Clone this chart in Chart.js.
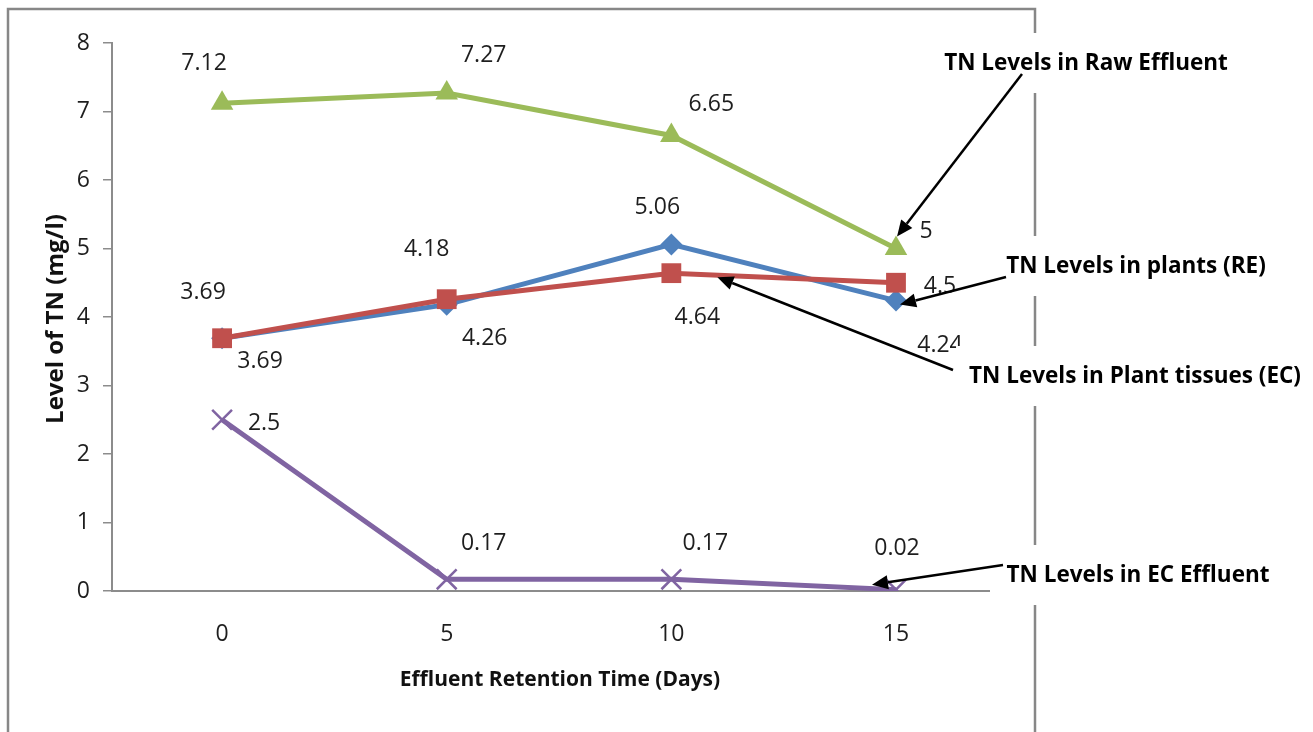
<!DOCTYPE html>
<html>
<head>
<meta charset="utf-8">
<script src="https://cdn.jsdelivr.net/npm/chart.js@4.4.1/dist/chart.umd.min.js"></script>
<style>
  html, body { margin: 0; padding: 0; background: #fff; }
  #wrap { width: 1313px; height: 732px; }
</style>
</head>
<body>
<div id="wrap"><canvas id="chartTN" width="1313" height="732"></canvas></div>
<script>
// datos
const days = [0, 5, 10, 15];
const rawEffluent = [7.12, 7.27, 6.65, 5];
const plantsRE = [3.69, 4.18, 5.06, 4.24];
const plantTissuesEC = [3.69, 4.26, 4.64, 4.5];
const ecEffluent = [2.5, 0.17, 0.17, 0.02];

const yTitle = 'Level of TN (mg/l)';
const xTitle = 'Effluent Retention Time (Days)';
const calloutTexts = [
  'TN Levels in Raw Effluent',
  'TN Levels in plants (RE)',
  'TN Levels in Plant tissues (EC)',
  'TN Levels in EC Effluent',
];

const FONT = "'Open Sans', 'DejaVu Sans', sans-serif";

function toPoints(values) {
  return values.map((v, i) => ({ x: days[i], y: v }));
}

// Dibuja marco, titulos, etiquetas de datos y flechas
const tnPlugin = {
  id: 'tnPlugin',
  beforeDraw(chart) {
    const ctx = chart.ctx;
    ctx.save();
    ctx.fillStyle = '#fff';
    ctx.fillRect(0, 0, chart.width, chart.height);
    ctx.strokeStyle = '#878787';
    ctx.lineWidth = 2.5;
    ctx.beginPath();
    ctx.moveTo(8, chart.height + 5);
    ctx.lineTo(8, 9);
    ctx.lineTo(1035, 9);
    ctx.lineTo(1035, chart.height + 5);
    ctx.stroke();
    ctx.restore();
  },
  afterDraw(chart) {
    const ctx = chart.ctx;
    ctx.save();

    // titulos de ejes
    ctx.fillStyle = '#111';
    ctx.font = 'bold 21px ' + FONT;
    ctx.textAlign = 'center';
    ctx.textBaseline = 'middle';
    ctx.fillText(xTitle, 560, 680);
    ctx.save();
    ctx.translate(56, 319);
    ctx.rotate(-Math.PI / 2);
    ctx.font = 'bold 24px ' + FONT;
    ctx.fillText(yTitle, 0, 0);
    ctx.restore();

    // etiquetas de datos
    ctx.font = '23px ' + FONT;
    ctx.fillStyle = '#1e1e1e';
    ctx.textAlign = 'center';
    ctx.textBaseline = 'alphabetic';
    chart.data.datasets.forEach((ds, di) => {
      const meta = chart.getDatasetMeta(di);
      meta.data.forEach((pt, i) => {
        const off = ds.labelOffsets[i];
        ctx.fillText(String(ds.data[i].y), pt.x + off[0], pt.y + off[1] + 8);
      });
    });

    // cajas de texto + flechas
    const callouts = chart.options.plugins.tnPlugin.callouts;
    ctx.font = 'bold 22.5px ' + FONT;
    callouts.forEach((c) => {
      const w = ctx.measureText(c.text).width;
      ctx.fillStyle = '#fff';
      ctx.fillRect(c.cx - w / 2 - 13, c.base - 37, w + 26, 60);
    });
    callouts.forEach((c) => {
      ctx.fillStyle = '#000';
      ctx.textAlign = 'center';
      ctx.fillText(c.text, c.cx, c.base);

      const pt = chart.getDatasetMeta(c.dataset).data[c.index];
      const tx = pt.x + c.tip[0];
      const ty = pt.y + c.tip[1];
      const ang = Math.atan2(ty - c.from[1], tx - c.from[0]);
      const headLen = 16;
      const headW = 7;
      const bx = tx - Math.cos(ang) * headLen;
      const by = ty - Math.sin(ang) * headLen;

      ctx.strokeStyle = '#000';
      ctx.lineWidth = 2.5;
      ctx.beginPath();
      ctx.moveTo(c.from[0], c.from[1]);
      ctx.lineTo(bx, by);
      ctx.stroke();

      ctx.beginPath();
      ctx.moveTo(tx, ty);
      ctx.lineTo(bx + Math.sin(ang) * headW, by - Math.cos(ang) * headW);
      ctx.lineTo(bx - Math.sin(ang) * headW, by + Math.cos(ang) * headW);
      ctx.closePath();
      ctx.fill();
    });

    ctx.restore();
  },
};

const ctx = document.getElementById('chartTN').getContext('2d');
new Chart(ctx, {
  type: 'line',
  data: {
    datasets: [
      {
        label: calloutTexts[2],
        data: toPoints(plantTissuesEC),
        borderColor: '#C0504D',
        backgroundColor: '#C0504D',
        borderWidth: 5,
        pointStyle: 'rect',
        pointRadius: 14,
        pointBorderWidth: 0,
        labelOffsets: [[38, 22], [38, 38], [26, 43], [44, 2]],
      },
      {
        label: calloutTexts[1],
        data: toPoints(plantsRE),
        borderColor: '#4F81BD',
        backgroundColor: '#4F81BD',
        borderWidth: 5,
        pointStyle: 'rectRot',
        pointRadius: 11,
        pointBorderWidth: 0,
        labelOffsets: [[-19, -47], [-20, -57], [-14, -38], [44, 43]],
      },
      {
        label: calloutTexts[0],
        data: toPoints(rawEffluent),
        borderColor: '#9BBB59',
        backgroundColor: '#9BBB59',
        borderWidth: 5,
        pointStyle: 'triangle',
        pointRadius: 13,
        pointBorderWidth: 0,
        labelOffsets: [[-18, -41], [37, -39], [40, -32], [30, -19]],
      },
      {
        label: calloutTexts[3],
        data: toPoints(ecEffluent),
        borderColor: '#8064A2',
        backgroundColor: '#8064A2',
        borderWidth: 5,
        pointStyle: 'crossRot',
        pointRadius: 14,
        pointBorderWidth: 2.5,
        labelOffsets: [[42, 2], [37, -37], [34, -37], [1, -43]],
      },
    ],
  },
  options: {
    responsive: false,
    animation: false,
    layout: { padding: { top: 43, right: 324, left: 0, bottom: 0 } },
    plugins: {
      legend: { display: false },
      tooltip: { enabled: false },
      tnPlugin: {
        callouts: [
          { text: calloutTexts[0], cx: 1086, base: 70, dataset: 2, index: 3, tip: [1, -12], from: [1022, 74] },
          { text: calloutTexts[1], cx: 1136, base: 273, dataset: 1, index: 3, tip: [4, 4], from: [1006, 277] },
          { text: calloutTexts[2], cx: 1135, base: 383, dataset: 0, index: 2, tip: [46, 4], from: [953, 370] },
          { text: calloutTexts[3], cx: 1138, base: 582, dataset: 3, index: 3, tip: [-24, -5], from: [1003, 565] },
        ],
      },
    },
    scales: {
      x: {
        type: 'linear',
        min: -2.45,
        max: 17.07,
        afterBuildTicks: (scale) => {
          scale.ticks = days.map((d) => ({ value: d }));
        },
        afterFit: (scale) => { scale.height = 141; },
        grid: { display: true, drawOnChartArea: false, drawTicks: false },
        border: { display: true, color: '#8c8c8c', width: 2 },
        ticks: { padding: 30, color: '#1e1e1e', font: { family: FONT, size: 23 } },
      },
      y: {
        min: 0,
        max: 8,
        ticks: { stepSize: 1, padding: 13, color: '#1e1e1e', font: { family: FONT, size: 23 } },
        afterFit: (scale) => { scale.width = 112; },
        grid: { display: true, drawOnChartArea: false, drawTicks: true, tickLength: 9, color: '#8c8c8c', lineWidth: 1.5 },
        border: { display: true, color: '#8c8c8c', width: 2 },
      },
    },
  },
  plugins: [tnPlugin],
});
</script>
</body>
</html>
